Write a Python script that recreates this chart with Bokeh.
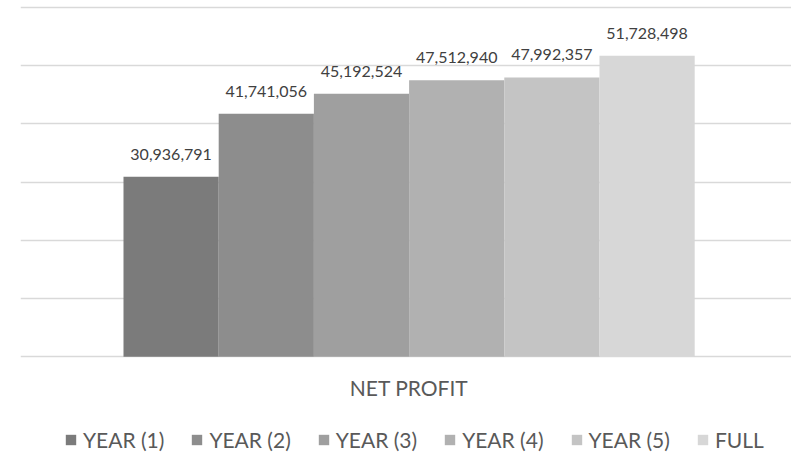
from bokeh.plotting import figure
from bokeh.models import (ColumnDataSource, Range1d, FixedTicker, LabelSet, Label,
                          Legend, LegendItem)
from bokeh.core.properties import value
from bokeh.embed import file_html
from bokeh.resources import INLINE

categories = ["YEAR (1)", "YEAR (2)", "YEAR (3)", "YEAR (4)", "YEAR (5)", "FULL"]
values = [30936791, 41741056, 45192524, 47512940, 47992357, 51728498]
colors = ["#7b7b7b", "#8d8d8d", "#9f9f9f", "#b1b1b1", "#c4c4c4", "#d7d7d7"]
group_label = "NET PROFIT"
y_ticks = [0, 10_000_000, 20_000_000, 30_000_000, 40_000_000, 50_000_000, 60_000_000]

FONT = "Lato"

xs = list(range(len(categories)))
src = ColumnDataSource(dict(
    x=xs, top=values, name=categories, color=colors,
    label=[f"{v:,}" for v in values],
))

p = figure(width=791, height=454, output_backend="svg", toolbar_location=None,
           x_range=Range1d(-1.582, 6.517), y_range=Range1d(-16.781e6, 61.202e6),
           x_axis_location=None, y_axis_location=None,
           min_border_left=20, min_border_right=0, min_border_top=0, min_border_bottom=0)
p.outline_line_color = None
p.background_fill_color = "white"
p.border_fill_color = "white"
p.xgrid.visible = False
p.ygrid.ticker = FixedTicker(ticks=y_ticks)
p.ygrid.grid_line_color = "#d9d9d9"
p.ygrid.grid_line_width = 1.5

r = p.vbar(x="x", top="top", bottom=0, width=1, fill_color="color",
           line_color=None, source=src)

labels = LabelSet(x="x", y="top", text="label", source=src, text_align="center",
                  text_baseline="alphabetic", y_offset=17,
                  text_font=value(FONT), text_font_size="16px", text_color="#404040")
p.add_layout(labels)

title = Label(x=sum(xs) / len(xs), y=0, y_offset=-30.6, text=group_label,
              text_align="center", text_baseline="alphabetic",
              text_font=FONT, text_font_size="21px", text_color="#595959")
p.add_layout(title)

legend = Legend(items=[LegendItem(label=c, renderers=[r], index=i)
                       for i, c in enumerate(categories)],
                orientation="horizontal", location=(44, 2),
                glyph_width=13, glyph_height=13, label_standoff=6, spacing=26,
                padding=0, margin=0, border_line_color=None,
                background_fill_alpha=0, label_height=13,
                label_text_font=FONT, label_text_font_size="21px",
                label_text_color="#595959")
p.add_layout(legend)

open("out.html", "w").write(file_html(p, INLINE))
